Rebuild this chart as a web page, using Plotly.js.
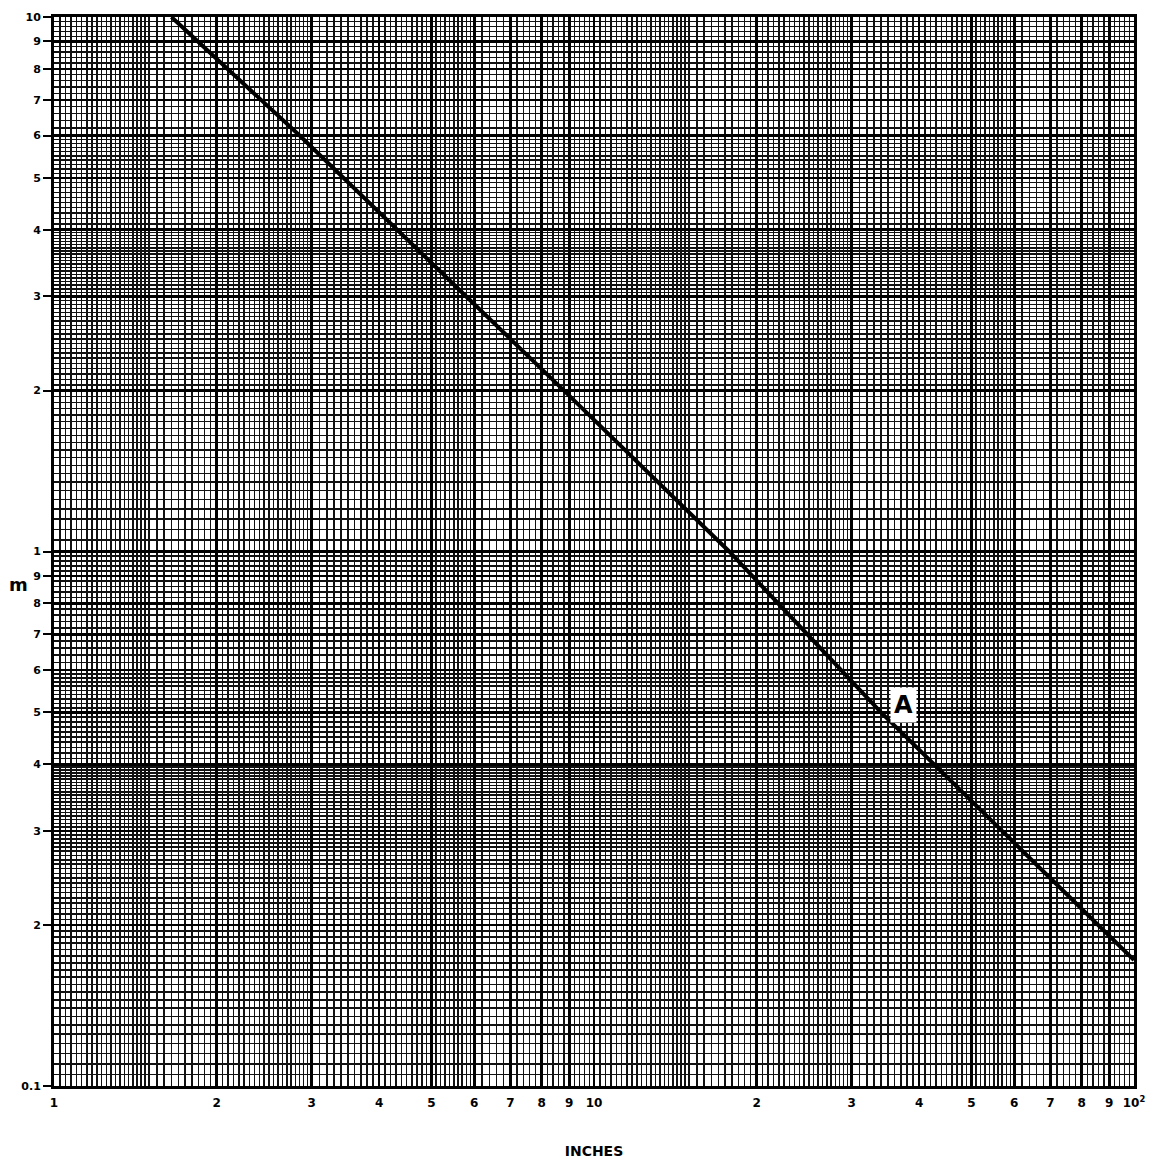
<!DOCTYPE html>
<html>
<head>
<meta charset="utf-8">
<script src="https://cdn.plot.ly/plotly-3.0.1.min.js"></script>
<style>
html,body{margin:0;padding:0;background:#fff;}
#chart{width:1158px;height:1159px;}
</style>
</head>
<body>
<div id="chart"></div>
<script>
// ---- data ----
const lineLabel = 'A';
const lineX = [1.65, 2.85, 5.8, 8.8, 17.8, 34, 100];
const lineY = [10, 6, 3, 2, 1, 0.5, 0.172];
const labelA = {x: 37.5, y: 0.516};

// tick labels
const xTickVals = [1,2,3,4,5,6,7,8,9,10,20,30,40,50,60,70,80,90,100];
const xTickText = ['1','2','3','4','5','6','7','8','9','10','2','3','4','5','6','7','8','9','10<sup>2</sup>'];
const yTickVals = [0.1,0.2,0.3,0.4,0.5,0.6,0.7,0.8,0.9,1,2,3,4,5,6,7,8,9,10];
const yTickText = ['0.1','2','3','4','5','6','7','8','9','1','2','3','4','5','6','7','8','9','10'];

// graph-paper ruling: [from, to, step] within one decade (mantissa)
const xRuling = [[1,1.5,0.025],[1.5,3,0.05],[3,6,0.1],[6,10,0.2]];
const yRuling = [[1,4,0.05],[4,6,0.1],[6,10,0.2]];
const decades = [1, 10];

function ruling(segs){
  const out = [];
  decades.forEach(d => {
    segs.forEach(([a,b,s]) => {
      const n = Math.round((b-a)/s);
      for(let i=0;i<n;i++){
        const m = +(a + i*s).toFixed(6);
        if (Math.abs(m - Math.round(m)) < 1e-6) continue; // heavy lines drawn separately
        out.push(+(m * d).toFixed(6));
      }
    });
  });
  return out;
}
const fineX = ruling(xRuling);
const fineY = ruling(yRuling).map(v => +(v/10).toFixed(6));

const font = {family:'DejaVu Sans, Arial, sans-serif', color:'#000'};

const traces = [
  {x:[], y:[], xaxis:'x', yaxis:'y', type:'scatter', mode:'lines', showlegend:false, hoverinfo:'skip'},
  {x:lineX, y:lineY, xaxis:'x2', yaxis:'y2', type:'scatter', mode:'lines', name:lineLabel,
   line:{color:'#000', width:4}, showlegend:false}
];

const layout = {
  width:1158, height:1159,
  margin:{l:54, r:24, t:17, b:73},
  paper_bgcolor:'#fff', plot_bgcolor:'#fff',
  showlegend:false,
  xaxis:{type:'log', range:[0,2], tickmode:'array', tickvals:fineX, showticklabels:false, ticks:'',
         showgrid:true, gridcolor:'#111', gridwidth:1.5, zeroline:false, showline:false, fixedrange:true},
  yaxis:{type:'log', range:[-1,1], tickmode:'array', tickvals:fineY, showticklabels:false, ticks:'',
         showgrid:true, gridcolor:'#111', gridwidth:1.5, zeroline:false, showline:false, fixedrange:true},
  xaxis2:{type:'log', range:[0,2], overlaying:'x', anchor:'y2', side:'bottom',
          tickmode:'array', tickvals:xTickVals, ticktext:xTickText, ticks:'', ticklabelstandoff:4,
          tickfont:Object.assign({size:12, weight:'bold'}, font),
          showgrid:true, gridcolor:'#000', gridwidth:2.6, zeroline:false,
          showline:true, mirror:true, linecolor:'#000', linewidth:3,
          title:{text:'INCHES', standoff:38, font:Object.assign({size:14, weight:'bold'}, font)}},
  yaxis2:{type:'log', range:[-1,1], overlaying:'y', anchor:'x2', side:'left',
          tickmode:'array', tickvals:yTickVals, ticktext:yTickText, ticks:'outside', ticklen:8, tickwidth:2, tickcolor:'#000',
          tickfont:Object.assign({size:11, weight:'bold'}, font),
          showgrid:true, gridcolor:'#000', gridwidth:2.6, zeroline:false,
          showline:true, mirror:true, linecolor:'#000', linewidth:3},
  annotations:[
    {text:'m', xref:'paper', yref:'paper', x:-0.033, y:0.4687, showarrow:false,
     font:Object.assign({size:18, weight:'bold'}, font), xanchor:'center', yanchor:'middle'},
    {text:lineLabel, xref:'x2', yref:'y2', x:Math.log10(labelA.x), y:Math.log10(labelA.y), showarrow:false,
     font:Object.assign({size:24, weight:'bold'}, font), bgcolor:'#fff', borderpad:3}
  ]
};

Plotly.newPlot('chart', traces, layout, {displayModeBar:false, staticPlot:true});
</script>
</body>
</html>
